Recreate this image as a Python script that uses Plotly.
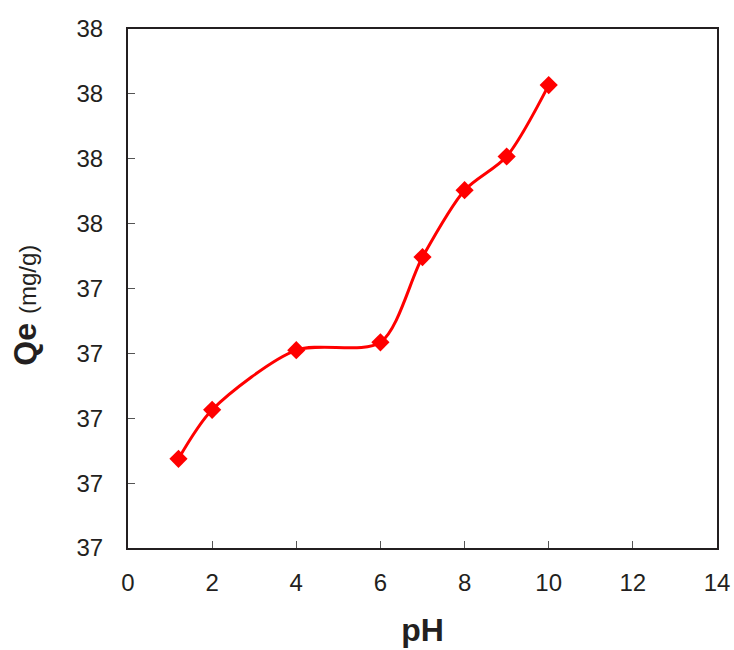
import plotly.graph_objects as go

ph = [1.2, 2, 4, 6, 7, 8, 9, 10]
qe = [36.875, 37.026, 37.21, 37.234, 37.497, 37.703, 37.807, 38.027]

y_tickvals = [36.6, 36.8, 37.0, 37.2, 37.4, 37.6, 37.8, 38.0, 38.2]
y_ticktext = ["37", "37", "37", "37", "37", "38", "38", "38", "38"]
x_tickvals = [0, 2, 4, 6, 8, 10, 12, 14]

fig = go.Figure()
fig.add_trace(go.Scatter(
    x=ph, y=qe, mode="lines+markers",
    line=dict(color="#ff0000", width=3, shape="spline", smoothing=0.8),
    marker=dict(symbol="diamond", size=14, color="#ff0000"),
    showlegend=False,
))

font_family = "Liberation Sans, Arial, sans-serif"
fig.update_layout(
    width=734, height=650,
    margin=dict(l=128, r=17, t=29, b=102),
    plot_bgcolor="white", paper_bgcolor="white",
    font=dict(family=font_family, color="#231f20"),
    xaxis=dict(
        range=[0, 14], tickvals=x_tickvals, automargin=False,
        ticks="inside", ticklen=7, tickcolor="#555555", tickwidth=1,
        ticklabelstandoff=12,
        showline=True, linecolor="#231f20", linewidth=2, mirror=True,
        showgrid=False, zeroline=False,
        tickfont=dict(size=24, family=font_family, color="#231f20"),
        title=dict(text="<b>pH</b>", font=dict(size=32, family=font_family, color="#231f20"), standoff=24),
    ),
    yaxis=dict(
        range=[36.6, 38.2], tickvals=y_tickvals, ticktext=y_ticktext, automargin=False,
        ticks="inside", ticklen=7, tickcolor="#555555", tickwidth=1,
        ticklabelstandoff=18,
        showline=True, linecolor="#231f20", linewidth=2, mirror=True,
        showgrid=False, zeroline=False,
        tickfont=dict(size=24, family=font_family, color="#231f20"),
        title=dict(text="<b>Qe</b> <span style='font-size:24px'>(mg/g)&nbsp;&nbsp;&nbsp;&nbsp;&nbsp;</span>",
                   font=dict(size=32, family=font_family, color="#231f20"), standoff=30),
    ),
)

fig.write_html("out.html")
